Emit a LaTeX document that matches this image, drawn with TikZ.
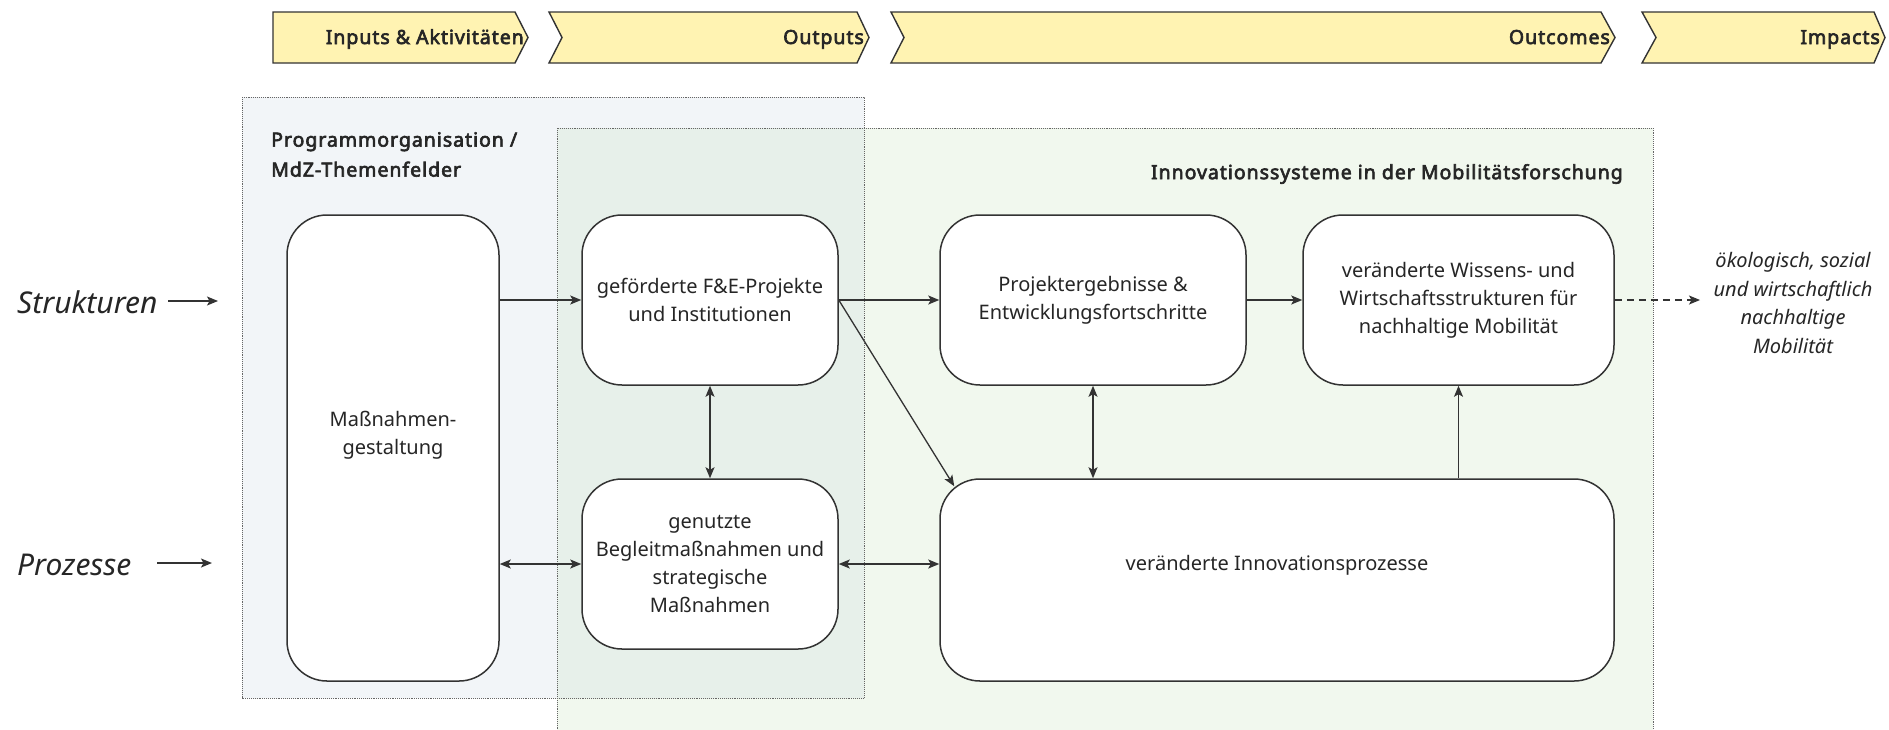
\documentclass[tikz,border=0pt]{standalone}
\usepackage{fontspec}
\setmainfont{Noto Sans}
\newfontfamily\headfont{Noto Sans}[FakeBold=3.2, LetterSpace=5]
\usetikzlibrary{arrows.meta,calc}
\definecolor{ink}{HTML}{333333}
\definecolor{txt}{HTML}{262626}
\definecolor{chevfill}{HTML}{FFF3B2}
\definecolor{progfill}{HTML}{F2F5F8}
\definecolor{innofill}{HTML}{F1F8EE}
\definecolor{overlapfill}{HTML}{E7F0EA}
\definecolor{framegray}{HTML}{666666}

\begin{document}
\begin{tikzpicture}[x=1pt,y=-1pt,
  font=\fontsize{20}{28}\selectfont, text=txt,
  box/.style={draw=ink, line width=1.5pt, fill=white, rounded corners=40pt,
    inner sep=0pt, align=center},
  chevron/.style={draw=ink, line width=1.4pt, fill=chevfill, line join=miter},
  chevlabel/.style={anchor=base east, inner sep=0pt, font=\headfont\fontsize{19.5}{22}\selectfont},
  grouptitle/.style={inner sep=0pt, font=\headfont\fontsize{19.5}{30}\selectfont},
  frame/.style={draw=framegray, densely dotted, line width=0.9pt},
  sidelabel/.style={inner sep=0pt, anchor=base west, font=\fontsize{30}{32}\selectfont\itshape},
  arr/.style={draw=ink, line width=1.3pt, -{Stealth[length=11pt,width=9pt,inset=2.5pt]}},
  darr/.style={draw=ink, line width=1.3pt, {Stealth[length=11pt,width=9pt,inset=2.5pt]}-{Stealth[length=11pt,width=9pt,inset=2.5pt]}},
]
\useasboundingbox (0,0) rectangle (1889,729);

% phase chevrons
\draw[chevron] (273,12) -- (515,12) -- (528,37.5) -- (515,63) -- (273,63) -- cycle;
\draw[chevron] (549,12) -- (857,12) -- (869,37.5) -- (857,63) -- (549,63) -- (562,37.5) -- cycle;
\draw[chevron] (891,12) -- (1601,12) -- (1615,37.5) -- (1601,63) -- (891,63) -- (904,37.5) -- cycle;
\draw[chevron] (1642,12) -- (1874,12) -- (1885,37.5) -- (1874,63) -- (1642,63) -- (1656,37.5) -- cycle;
\node[chevlabel] (ph1) at (524,44) {Inputs \& Aktivitäten};
\node[chevlabel] (ph2) at (864,44) {Outputs};
\node[chevlabel] (ph3) at (1610,44) {Outcomes};
\node[chevlabel] (ph4) at (1880,44) {Impacts};

% group areas
\fill[progfill] (242,97) rectangle (864,698);
\fill[innofill] (557,128) rectangle (1653,745);
\fill[overlapfill] (557,128) rectangle (864,698);
\draw[frame] (242,97) rectangle (864,698);
\draw[frame] (557,128) rectangle (1653,745);

\node[grouptitle, anchor=north west, align=left] (progtitle) at (271,132)
  {Programmorganisation /\\MdZ-Themenfelder};
\node[grouptitle, anchor=east] (innotitle) at (1623,174)
  {Innovationssysteme in der Mobilitätsforschung};

% boxes
\node[box, minimum width=212pt, minimum height=466pt,
  label={[yshift=13pt, align=center]center:Maßnahmen-\\gestaltung}] (mass) at (393,448) {};
\node[box, minimum width=256pt, minimum height=170pt] (gef) at (710,300)
  {geförderte F\&E-Projekte\\und Institutionen};
\node[box, minimum width=256pt, minimum height=170pt] (gen) at (710,564)
  {genutzte\\Begleitmaßnahmen und\\strategische\\Maßnahmen};
\node[box, minimum width=306pt, minimum height=170pt] (proj) at (1093,300)
  {Projektergebnisse \&\\Entwicklungsfortschritte};
\node[box, minimum width=311pt, minimum height=170pt] (wiss) at (1458.5,300)
  {veränderte Wissens- und\\Wirtschaftsstrukturen für\\nachhaltige Mobilität};
\node[box, minimum width=674pt, minimum height=202pt,
  label={[yshift=15pt]center:veränderte Innovationsprozesse}] (inno) at (1277,580) {};

% side labels
\node[sidelabel] (struk) at (17,313) {Strukturen};
\node[sidelabel] (proz) at (17,575) {Prozesse};
\coordinate (s0) at (168,301);
\coordinate (s1) at (218,301);
\coordinate (p0) at (157,563);
\coordinate (p1) at (212,563);
\draw[arr] (s0) -- (s1);
\draw[arr] (p0) -- (p1);

\node[align=center, inner sep=0pt, font=\fontsize{20}{28.4}\selectfont\itshape] (eco) at (1793,303)
  {ökologisch, sozial\\und wirtschaftlich\\nachhaltige\\Mobilität};

% connectors
\draw[arr] (mass.east |- gef.west) -- (gef.west);
\draw[arr] (gef.east) -- (proj.west);
\draw[arr] (proj.east) -- (wiss.west);
\draw[arr] (gef.east) -- ($(inno.north west)+(15,8)$);
\draw[darr] (gef.south) -- (gen.north);
\draw[darr] (mass.east |- gen.west) -- (gen.west);
\draw[darr] (gen.east) -- (gen.east -| inno.west);
\draw[darr] (proj.south) -- (proj.south |- inno.north);
\draw[arr] (wiss.south |- inno.north) -- (wiss.south);
\coordinate (ecoin) at (1700,300);
\draw[arr, dash pattern=on 7pt off 5pt] (wiss.east) -- (ecoin);
\end{tikzpicture}
\end{document}
